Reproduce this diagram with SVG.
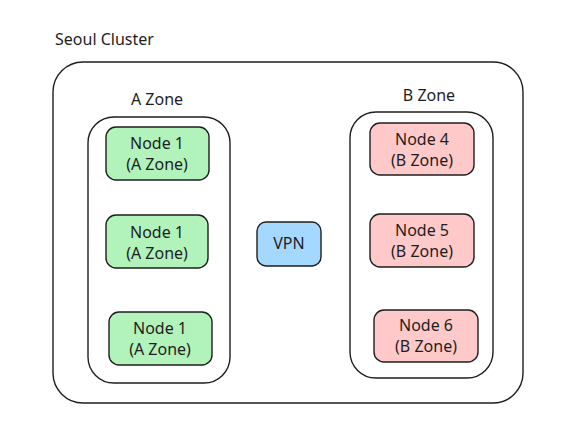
<svg xmlns="http://www.w3.org/2000/svg" width="567" height="444" viewBox="0 0 567 444">
<style>
text{font-family:"Noto Sans","Liberation Sans",sans-serif;font-size:16px;fill:#1e1e1e;text-anchor:middle}
.c{fill:none;stroke:#1e1e1e;stroke-width:1.4}
.g{fill:#b2f2bb;stroke:#1e1e1e;stroke-width:1.4}
.r{fill:#ffc9c9;stroke:#1e1e1e;stroke-width:1.4}
.b{fill:#a5d8ff;stroke:#1e1e1e;stroke-width:1.4}
</style>
<rect width="567" height="444" fill="#fff"/>
<g id="cluster">
<rect class="c" x="53" y="62" width="470" height="341" rx="30"/>
<text x="55" y="45" style="text-anchor:start">Seoul Cluster</text>
</g>
<g id="zoneA">
<rect class="c" x="88" y="117" width="142" height="266" rx="26"/>
<text x="157" y="105">A Zone</text>
</g>
<g id="zoneB">
<rect class="c" x="350" y="112" width="143" height="266" rx="26"/>
<text x="429" y="101">B Zone</text>
</g>
<g id="nodeA1">
<rect class="g" x="106" y="127" width="103" height="53" rx="10"/>
<text x="157" y="149">Node 1</text><text x="157" y="170">(A Zone)</text>
</g>
<g id="nodeA2">
<rect class="g" x="106" y="215" width="102" height="53" rx="10"/>
<text x="157" y="238">Node 1</text><text x="157" y="259">(A Zone)</text>
</g>
<g id="nodeA3">
<rect class="g" x="109" y="312" width="103" height="53" rx="10"/>
<text x="160" y="334">Node 1</text><text x="160" y="355">(A Zone)</text>
</g>
<g id="vpn">
<rect class="b" x="257" y="222" width="64" height="44" rx="9"/>
<text x="289" y="249">VPN</text>
</g>
<g id="node4">
<rect class="r" x="370" y="123" width="104" height="52" rx="10"/>
<text x="422" y="145">Node 4</text><text x="422" y="166">(B Zone)</text>
</g>
<g id="node5">
<rect class="r" x="370" y="214" width="104" height="53" rx="10"/>
<text x="422" y="236">Node 5</text><text x="422" y="257">(B Zone)</text>
</g>
<g id="node6">
<rect class="r" x="374" y="310" width="104" height="52" rx="10"/>
<text x="426" y="331">Node 6</text><text x="426" y="352">(B Zone)</text>
</g>
<g id="connectors"/>
</svg>
